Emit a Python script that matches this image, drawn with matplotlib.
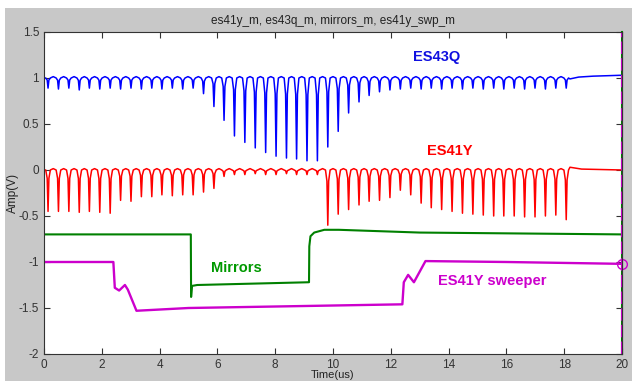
import matplotlib
matplotlib.use('Agg')
import matplotlib.pyplot as plt
from matplotlib.patches import Rectangle
from matplotlib.ticker import FormatStrFormatter

plt.rcParams['font.family'] = ['Liberation Sans', 'DejaVu Sans']
plt.rcParams['font.size'] = 8

# dip times (us) shared by both detector traces
dip_t = [0.14, 0.50, 0.86, 1.22, 1.57, 1.93, 2.29, 2.65, 3.01, 3.37,
         3.73, 4.08, 4.44, 4.80, 5.16, 5.52, 5.88, 6.23, 6.59, 6.95,
         7.31, 7.67, 8.03, 8.39, 8.74, 9.10, 9.46, 9.82, 10.18, 10.54,
         10.90, 11.25, 11.61, 11.97, 12.33, 12.69, 13.05, 13.40, 13.76, 14.12,
         14.48, 14.84, 15.20, 15.56, 15.91, 16.27, 16.63, 16.99, 17.35, 17.71,
         18.07]

# ES43Q dip bottoms (V)
es43q_min = [0.89, 0.88, 0.89, 0.87, 0.89, 0.88, 0.89, 0.88, 0.89, 0.88,
             0.89, 0.88, 0.89, 0.88, 0.89, 0.83, 0.69, 0.54, 0.37, 0.30,
             0.24, 0.19, 0.15, 0.13, 0.12, 0.10, 0.10, 0.25, 0.42, 0.62,
             0.74, 0.81, 0.85, 0.87, 0.88, 0.89, 0.88, 0.89, 0.88, 0.89,
             0.88, 0.89, 0.88, 0.89, 0.88, 0.89, 0.88, 0.89, 0.88, 0.89,
             0.89]

# ES41Y dip bottoms (V)
es41y_min = [-0.45, -0.45, -0.45, -0.46, -0.45, -0.46, -0.47, -0.33, -0.34, -0.29,
             -0.29, -0.27, -0.28, -0.27, -0.27, -0.24, -0.20, -0.07, -0.05, -0.05,
             -0.04, -0.05, -0.05, -0.04, -0.05, -0.05, -0.05, -0.60, -0.48, -0.43,
             -0.38, -0.34, -0.33, -0.30, -0.22, -0.27, -0.36, -0.41, -0.43, -0.45,
             -0.47, -0.48, -0.49, -0.50, -0.50, -0.50, -0.51, -0.51, -0.50, -0.49,
             -0.54]

# tails after the last dip
es43q_tail_t = [18.20, 18.50, 19.00, 20.00]
es43q_tail_v = [0.99, 1.01, 1.02, 1.03]
es41y_tail_t = [18.20, 18.40, 18.60, 20.00]
es41y_tail_v = [0.03, 0.02, 0.01, 0.00]

# mirrors trace breakpoints
mirrors_t = [0.0, 5.08, 5.09, 5.12, 5.30, 9.17, 9.18, 9.22, 9.35, 9.70, 10.2, 13.0, 20.0]
mirrors_v = [-0.70, -0.70, -1.38, -1.26, -1.25, -1.22, -0.83, -0.72, -0.68, -0.65, -0.65, -0.68, -0.70]

# ES41Y sweeper breakpoints
sweep_t = [0.0, 2.40, 2.45, 2.60, 2.80, 2.90, 3.20, 5.0, 12.40, 12.45, 12.60, 12.80, 13.20, 16.0, 20.0]
sweep_v = [-1.00, -1.00, -1.28, -1.31, -1.25, -1.30, -1.53, -1.50, -1.46, -1.22, -1.14, -1.22, -0.99, -1.00, -1.02]

# shape of one dip (time offset, fraction of depth)
dip_off = [-0.08, -0.03, -0.01, 0.0, 0.01, 0.03, 0.08]
dip_frac = [0.0, 0.2, 0.7, 1.0, 0.7, 0.2, 0.0]


def dip_trace(base, times, bottoms, tail_t, tail_v, hump=0.015):
    t = [0.0]
    v = [base]
    for i in range(len(times)):
        d = base - bottoms[i]
        for off, fr in zip(dip_off, dip_frac):
            t.append(times[i] + off)
            v.append(base - fr * d)
        if i < len(times) - 1:
            t.append((times[i] + times[i + 1]) / 2)
            v.append(base + hump)
    return t + tail_t, v + tail_v


fig = plt.figure(figsize=(6.32, 3.81), dpi=100, facecolor='white')
fig.patches.append(Rectangle((5 / 632, 0), 1, (381 - 8) / 381, transform=fig.transFigure,
                             facecolor='#c8c8c8', edgecolor='none', zorder=-10))
ax = fig.add_axes([44 / 632, 27 / 381, 578 / 632, 322 / 381])
ax.set_facecolor('white')

bt, bv = dip_trace(1.0, dip_t, es43q_min, es43q_tail_t, es43q_tail_v)
rt, rv = dip_trace(0.0, dip_t, es41y_min, es41y_tail_t, es41y_tail_v)
ax.plot(bt, bv, color='#0000ff', lw=1.1)
ax.plot(rt, rv, color='#ff0000', lw=1.1)
ax.plot(mirrors_t, mirrors_v, color='#008000', lw=1.5)
ax.plot(sweep_t, sweep_v, color='#cc00cc', lw=1.7)

ax.axvline(20, color='#008000', lw=1.5, clip_on=False)
ax.axvline(20, color='#cc00cc', lw=1.5, ls=(0, (6, 2)), clip_on=False)
ax.plot([20], [-1.02], 'o', mfc='none', mec='#cc00cc', ms=7, mew=1, clip_on=False)

ax.text(13.6, 1.23, 'ES43Q', color='#1010e0', fontsize=10.5, fontweight='bold', ha='center', va='center')
ax.text(14.05, 0.21, 'ES41Y', color='#ff0000', fontsize=10.5, fontweight='bold', ha='center', va='center')
ax.text(6.67, -1.06, 'Mirrors', color='#009900', fontsize=10.5, fontweight='bold', ha='center', va='center')
ax.text(15.52, -1.21, 'ES41Y sweeper', color='#cc00cc', fontsize=10.5, fontweight='bold', ha='center', va='center')

ax.set_xlim(0, 20)
ax.set_ylim(-2, 1.5)
ax.set_xticks(range(0, 21, 2))
ax.set_yticks([-2, -1.5, -1, -0.5, 0, 0.5, 1, 1.5])
ax.yaxis.set_major_formatter(FormatStrFormatter('%g'))
ax.tick_params(direction='in', length=4, width=0.8, top=True, right=True, colors='#333333', labelsize=8.5)
for s in ax.spines.values():
    s.set_color('#333333')
    s.set_linewidth(0.8)

fig.text(333 / 632, 1 - 21 / 381, 'es41y_m, es43q_m, mirrors_m, es41y_swp_m', ha='center', va='center', fontsize=8.5, color='#222222')
fig.text(333 / 632, 1 - 375 / 381, 'Time(us)', ha='center', va='center', fontsize=8, color='#222222')
fig.text(13 / 632, 1 - 193 / 381, 'Amp(V)', ha='center', va='center', rotation=90, fontsize=8.5, color='#222222')

fig.savefig('out.png', dpi=100, facecolor=fig.get_facecolor())
